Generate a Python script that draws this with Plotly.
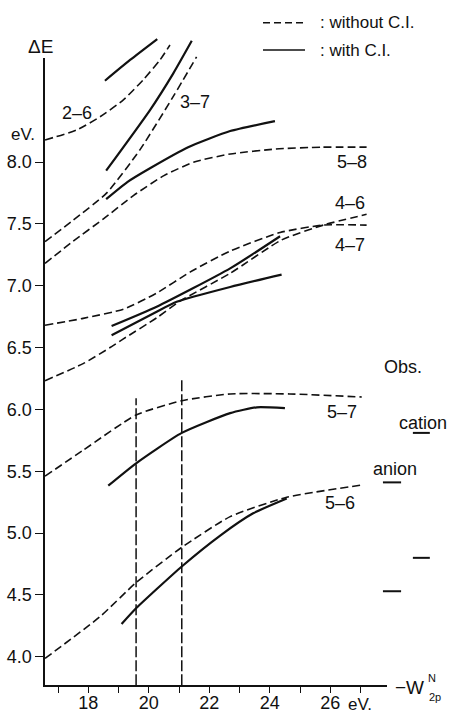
import plotly.graph_objects as go

# ---------------- data ----------------
# dashed = without C.I., solid = with C.I.   x: -W_2p^N (eV), y: Delta E (eV)
d26_x = [16.57, 17.62, 18.39, 19.15, 19.81, 20.37, 20.70]
d26_y = [8.178, 8.259, 8.366, 8.50, 8.663, 8.825, 8.946]
s26_x = [18.55, 19.38, 20.28]
s26_y = [8.657, 8.825, 8.994]

d37_x = [16.57, 17.50, 18.61, 19.71, 20.81, 21.58]
d37_y = [7.356, 7.53, 7.75, 8.10, 8.53, 8.85]
s37_x = [18.59, 20.04, 20.81, 21.42]
s37_y = [7.93, 8.42, 8.717, 8.98]

d58_x = [16.57, 17.5, 18.5, 19.5, 20.5, 21.5, 22.7, 24.2, 25.7, 27.2]
d58_y = [7.18, 7.36, 7.54, 7.73, 7.89, 8.00, 8.065, 8.105, 8.12, 8.12]
s58_x = [18.59, 19.3, 20.04, 21.3, 22.69, 24.17]
s58_y = [7.70, 7.84, 7.95, 8.12, 8.25, 8.33]

d46_x = [16.57, 17.83, 19.16, 20.26, 21.36, 22.69, 24.34, 25.77, 27.2]
d46_y = [6.68, 6.736, 6.81, 6.94, 7.11, 7.28, 7.43, 7.49, 7.49]
s46_x = [18.77, 20.26, 22.69, 24.34]
s46_y = [6.674, 6.83, 7.14, 7.40]

d47_x = [16.57, 17.83, 18.72, 19.16, 20.26, 21.03, 22.69, 24.39, 25.77, 27.2]
d47_y = [6.232, 6.37, 6.50, 6.57, 6.74, 6.875, 7.10, 7.37, 7.49, 7.577]
s47_x = [18.77, 20.26, 20.92, 22.69, 24.39]
s47_y = [6.60, 6.79, 6.87, 6.99, 7.09]

d57_x = [16.57, 17.83, 19.58, 21.09, 22.69, 24.66, 27.04]
d57_y = [5.46, 5.67, 5.955, 6.07, 6.125, 6.125, 6.10]
s57_x = [18.66, 19.58, 21.09, 22.69, 23.57, 24.5]
s57_y = [5.383, 5.564, 5.81, 5.97, 6.017, 6.01]

d56_x = [16.57, 18.39, 19.58, 21.09, 22.69, 24.56, 27.09]
d56_y = [3.987, 4.325, 4.60, 4.885, 5.133, 5.29, 5.39]
s56_x = [19.10, 19.58, 21.09, 22.36, 23.45, 24.56]
s56_y = [4.265, 4.392, 4.73, 4.98, 5.16, 5.28]

# vertical reference lines
vline_x = [19.58, 21.09]
vline_top = [6.09, 6.26]

# observed values
obs_cation = [5.81, 4.80]
obs_anion = [5.41, 4.53]
obs_cation_x = [28.73, 29.29]
obs_anion_x = [27.74, 28.34]

# curve labels
pair_labels = ["2–6", "3–7", "5–8", "4–6", "4–7", "5–7", "5–6"]
pair_label_x = [17.62, 21.53, 26.71, 26.65, 26.65, 26.38, 26.32]
pair_label_y = [8.40, 8.485, 8.0, 7.67, 7.33, 5.98, 5.24]

x_ticks = list(range(17, 28))
x_tick_text = [str(v) if v % 2 == 0 else "" for v in x_ticks]
y_ticks = [4.0, 4.5, 5.0, 5.5, 6.0, 6.5, 7.0, 7.5, 8.0]
y_tick_text = [f"{v:.1f}" for v in y_ticks]

# ---------------- layout geometry ----------------
W, H = 452, 717
X18_PX, XS = 88.3, 30.25     # pixel of x=18, px per eV
Y8_PX, YS = 162.0, 123.7     # pixel of y=8.0, px per eV
X_MIN, X_MAX = 16.57, 27.87
Y_MIN, Y_MAX = 3.771, 8.84


def px_x(p):
    return 18 + (p - X18_PX) / XS


def px_y(p):
    return 8 - (p - Y8_PX) / YS


INK = "#111111"
FONT = "Liberation Sans, Arial, sans-serif"
DASH = "8px,4px"

fig = go.Figure()


def add_curve(xs, ys, dashed):
    fig.add_trace(go.Scatter(
        x=xs, y=ys, mode="lines",
        line=dict(color=INK, width=1.6 if dashed else 2.2,
                  dash=DASH if dashed else "solid", shape="spline", smoothing=0.55),
        showlegend=False, hoverinfo="skip"))


for xs, ys in [(d26_x, d26_y), (d37_x, d37_y), (d58_x, d58_y), (d46_x, d46_y),
               (d47_x, d47_y), (d57_x, d57_y), (d56_x, d56_y)]:
    add_curve(xs, ys, True)
for xs, ys in [(s26_x, s26_y), (s37_x, s37_y), (s58_x, s58_y), (s46_x, s46_y),
               (s47_x, s47_y), (s57_x, s57_y), (s56_x, s56_y)]:
    add_curve(xs, ys, False)

for vx, vt in zip(vline_x, vline_top):
    fig.add_trace(go.Scatter(x=[vx, vx], y=[Y_MIN, vt], mode="lines",
                             line=dict(color=INK, width=1.5, dash="11px,3px"),
                             showlegend=False, hoverinfo="skip"))

for v in obs_cation:
    fig.add_trace(go.Scatter(x=obs_cation_x, y=[v, v], mode="lines",
                             line=dict(color=INK, width=2), showlegend=False, hoverinfo="skip"))
for v in obs_anion:
    fig.add_trace(go.Scatter(x=obs_anion_x, y=[v, v], mode="lines",
                             line=dict(color=INK, width=2), showlegend=False, hoverinfo="skip"))

# dummy trace so the visible axis pair is drawn
fig.add_trace(go.Scatter(x=[X_MIN], y=[Y_MIN], xaxis="x2", yaxis="y2", mode="markers",
                         marker=dict(opacity=0), showlegend=False, hoverinfo="skip"))

ann = []
for t, ax, ay in zip(pair_labels, pair_label_x, pair_label_y):
    ann.append(dict(x=ax, y=ay, text=t, showarrow=False, font=dict(size=18)))

ann += [
    dict(x=px_x(40), y=px_y(46), text="ΔE", showarrow=False, font=dict(size=19)),
    dict(x=px_x(23), y=px_y(134), text="eV.", showarrow=False, font=dict(size=17)),
    dict(x=px_x(360), y=px_y(704), text="eV.", showarrow=False, font=dict(size=17)),
    dict(x=px_x(409), y=px_y(687), text="−W", showarrow=False, font=dict(size=19)),
    dict(x=px_x(432), y=px_y(678), text="N", showarrow=False, font=dict(size=11)),
    dict(x=px_x(435), y=px_y(697), text="2p", showarrow=False, font=dict(size=11)),
    dict(x=px_x(403), y=px_y(367), text="Obs.", showarrow=False, font=dict(size=18)),
    dict(x=px_x(423), y=px_y(423), text="cation", showarrow=False, font=dict(size=18)),
    dict(x=px_x(395), y=px_y(469), text="anion", showarrow=False, font=dict(size=18)),
    dict(x=px_x(318), y=px_y(22), text=": without C.I.", showarrow=False, xanchor="left",
         font=dict(size=17)),
    dict(x=px_x(318), y=px_y(50), text=": with C.I.", showarrow=False, xanchor="left",
         font=dict(size=17)),
]

shapes = [
    dict(type="line", xref="x", yref="y", x0=px_x(263), x1=px_x(305), y0=px_y(22.7), y1=px_y(22.7),
         line=dict(color=INK, width=1.6, dash="7px,4px")),
    dict(type="line", xref="x", yref="y", x0=px_x(263), x1=px_x(305), y0=px_y(50), y1=px_y(50),
         line=dict(color=INK, width=1.6)),
]

x2_dom = [(X18_PX + (X_MIN - 18) * XS) / W, (X18_PX + (X_MAX - 18) * XS) / W]
y2_dom = [1 - (Y8_PX + (8 - Y_MIN) * YS) / H, 1 - (Y8_PX - (Y_MAX - 8) * YS) / H]

fig.update_layout(
    width=W, height=H,
    margin=dict(l=0, r=0, t=0, b=0),
    paper_bgcolor="white", plot_bgcolor="rgba(0,0,0,0)",
    font=dict(family=FONT, color=INK),
    showlegend=False,
    xaxis=dict(range=[px_x(0), px_x(W)], domain=[0, 1], visible=False, fixedrange=True),
    yaxis=dict(range=[px_y(H), px_y(0)], domain=[0, 1], visible=False, fixedrange=True),
    xaxis2=dict(range=[X_MIN, X_MAX], domain=x2_dom, anchor="y2", showline=True,
                linecolor=INK, linewidth=1.5, ticks="outside", ticklen=6, tickwidth=1.3,
                tickcolor=INK, tickvals=x_ticks, ticktext=x_tick_text, showgrid=False,
                zeroline=False, tickfont=dict(size=18), automargin=False,
                ticklabelstandoff=-5),
    yaxis2=dict(range=[Y_MIN, Y_MAX], domain=y2_dom, anchor="x2", showline=True,
                linecolor=INK, linewidth=1.5, ticks="outside", ticklen=8, tickwidth=1.3,
                tickcolor=INK, tickvals=y_ticks, ticktext=y_tick_text, showgrid=False,
                zeroline=False, tickfont=dict(size=18), automargin=False),
    annotations=ann,
    shapes=shapes,
)

fig.write_html("out.html")
